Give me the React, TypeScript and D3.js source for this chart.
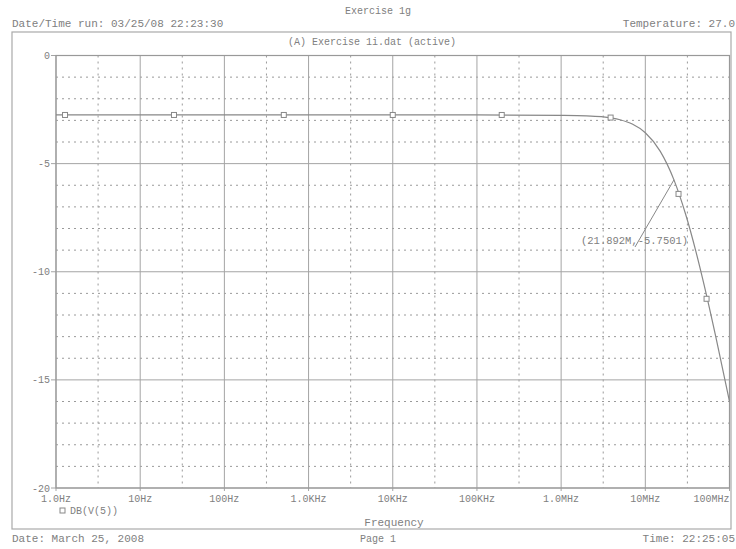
import * as d3 from "d3";

// curve: frequency (Hz) and DB(V(5))
const freqs = [1, 10, 100, 1e3, 1e4, 1e5, 1e6, 2e6, 3e6, 5e6, 7e6, 1e7, 1.5e7, 2.1892e7, 3e7, 4e7, 5e7, 7e7, 1e8];
const dbValues = [-2.75, -2.75, -2.75, -2.75, -2.75, -2.75, -2.77, -2.79, -2.83, -2.97, -3.17, -3.57, -4.42, -5.75, -7.32, -9.08, -10.62, -13.15, -16.0];

// trace markers
const markerFreqs = [1.28, 25.2, 508, 1e4, 1.97e5, 3.87e6, 2.48e7, 5.34e7];
const markerDb = [-2.75, -2.75, -2.75, -2.75, -2.75, -2.87, -6.4, -11.25];

const xTickValues = [1, 10, 100, 1e3, 1e4, 1e5, 1e6, 1e7, 1e8];
const xTickLabels = ["1.0Hz", "10Hz", "100Hz", "1.0KHz", "10KHz", "100KHz", "1.0MHz", "10MHz", "100MHz"];
const yTicks = [0, -5, -10, -15, -20];
const yMinor = [-1, -2, -3, -4, -6, -7, -8, -9, -11, -12, -13, -14, -16, -17, -18, -19];
const xMinor = [3.162, 31.62, 316.2, 3162, 31620, 316200, 3162000, 31620000];

const cursor = { f: 2.1892e7, db: -5.7501, label: "(21.892M,-5.7501)" };

const W = 736;
const H = 549;
const plot = { left: 56, right: 729.5, top: 55.5, bottom: 488 };
const font = "'Liberation Mono', 'DejaVu Sans Mono', monospace";
const ink = "#808080";

export default function App() {
  const x = d3.scaleLog().domain([1, 1e8]).range([plot.left, plot.right]);
  const y = d3.scaleLinear().domain([0, -20]).range([plot.top, plot.bottom]);

  const pts: [number, number][] = freqs.map((f, i) => [x(f), y(dbValues[i])]);
  const line = d3.line().curve(d3.curveMonotoneX)(pts) || "";

  const cx = x(cursor.f);
  const cy = y(cursor.db);

  return (
    <svg
      width={W}
      height={H}
      style={{ position: "absolute", left: 0, top: 0, background: "#fff" }}
      fontFamily={font}
    >
      {/* page header */}
      <text x={378} y={14} fontSize={10} fill={ink} textAnchor="middle">Exercise 1g</text>
      <text x={12} y={27} fontSize={11} fill={ink}>Date/Time run: 03/25/08 22:23:30</text>
      <text x={735} y={27} fontSize={11} fill={ink} textAnchor="end">Temperature: 27.0</text>

      {/* outer frame */}
      <rect x={12} y={32} width={719} height={497} fill="none" stroke="#aaa" strokeWidth={1.2} />
      <text x={372} y={45} fontSize={10} fill={ink} textAnchor="middle">(A) Exercise 1i.dat (active)</text>

      {/* minor grid */}
      {yMinor.map((v) => (
        <line key={"ym" + v} x1={plot.left} x2={plot.right} y1={y(v)} y2={y(v)} stroke="#9a9a9a" strokeWidth={1} strokeDasharray="2,4" />
      ))}
      {xMinor.map((v) => (
        <line key={"xm" + v} x1={x(v)} x2={x(v)} y1={plot.top} y2={plot.bottom} stroke="#9a9a9a" strokeWidth={1} strokeDasharray="2,4" />
      ))}

      {/* major grid */}
      {yTicks.map((v) => (
        <line key={"yt" + v} x1={plot.left - 5} x2={plot.right} y1={y(v)} y2={y(v)} stroke="#a4a4a4" strokeWidth={1} />
      ))}
      {xTickValues.map((v) => (
        <line key={"xt" + v} x1={x(v)} x2={x(v)} y1={plot.top} y2={plot.bottom + 3} stroke="#a4a4a4" strokeWidth={1} />
      ))}
      <rect x={plot.left} y={plot.top} width={plot.right - plot.left} height={plot.bottom - plot.top} fill="none" stroke="#999" strokeWidth={1.2} />

      {/* tick labels */}
      {yTicks.map((v) => (
        <text key={"yl" + v} x={plot.left - 6} y={y(v) + 3.5} fontSize={10} fill={ink} textAnchor="end">{v}</text>
      ))}
      {xTickValues.map((v, i) => (
        <text
          key={"xl" + v}
          x={i === xTickValues.length - 1 ? plot.right : x(v)}
          y={502}
          fontSize={10}
          fill={ink}
          textAnchor={i === xTickValues.length - 1 ? "end" : "middle"}
        >
          {xTickLabels[i]}
        </text>
      ))}

      {/* trace */}
      <path d={line} fill="none" stroke="#888" strokeWidth={1.2} />
      {markerFreqs.map((f, i) => (
        <rect key={"mk" + i} x={x(f) - 2.5} y={y(markerDb[i]) - 2.5} width={5} height={5} fill="#fff" stroke="#888" strokeWidth={1} />
      ))}

      {/* cursor annotation */}
      <line x1={cx} y1={cy} x2={635} y2={247} stroke="#888" strokeWidth={1} />
      <text x={581} y={244} fontSize={10.5} fill={ink}>{cursor.label}</text>

      {/* legend + axis title */}
      <rect x={60} y={508} width={5} height={5} fill="#fff" stroke="#888" strokeWidth={1} />
      <text x={70} y={514} fontSize={10} fill={ink}>DB(V(5))</text>
      <text x={394} y={526} fontSize={11} fill={ink} textAnchor="middle">Frequency</text>

      {/* page footer */}
      <text x={12} y={542} fontSize={11} fill={ink}>Date: March 25, 2008</text>
      <text x={378} y={542} fontSize={10} fill={ink} textAnchor="middle">Page 1</text>
      <text x={735} y={542} fontSize={11} fill={ink} textAnchor="end">Time: 22:25:05</text>
    </svg>
  );
}
